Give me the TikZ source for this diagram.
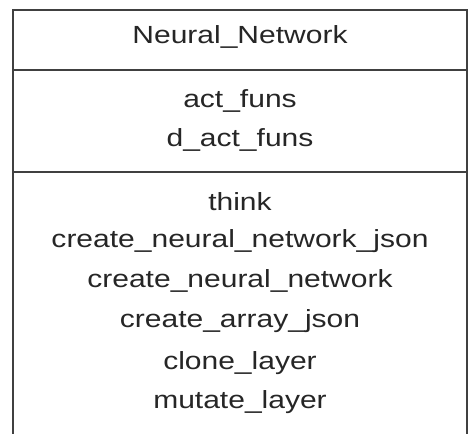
\documentclass[tikz,border=0pt]{standalone}
\usepackage{fontspec}
\setmainfont[FakeStretch=1.21]{Liberation Sans}
\begin{document}
\begin{tikzpicture}[x=1pt,y=-1pt,
  frame/.style={draw=black!75,line width=2.8pt},
  lbl/.style={font=\fontsize{24.8}{29}\selectfont,text=black!85,inner sep=0pt,anchor=base}]
\useasboundingbox (0,0) rectangle (473,433);
\fill[white] (0,0) rectangle (473,433);
\coordinate (tl) at (13,10);
\coordinate (tr) at (467,10);
\coordinate (bl) at (13,433);
\coordinate (br) at (467,433);
\draw[frame,line cap=rect] (bl) -- (tl) -- (tr) -- (br);
\coordinate (d1l) at (13,70);
\coordinate (d1r) at (467,70);
\coordinate (d2l) at (13,172);
\coordinate (d2r) at (467,172);
\draw[frame] (d1l) -- (d1r);
\draw[frame] (d2l) -- (d2r);
\node[lbl] (name) at (240,44) {Neural\_Network};
\node[lbl] (a1) at (240,107) {act\_funs};
\node[lbl] (a2) at (240,146) {d\_act\_funs};
\node[lbl] (m1) at (240,210) {think};
\node[lbl] (m2) at (240,247) {create\_neural\_network\_json};
\node[lbl] (m3) at (240,287) {create\_neural\_network};
\node[lbl] (m4) at (240,327) {create\_array\_json};
\node[lbl] (m5) at (240,369) {clone\_layer};
\node[lbl] (m6) at (240,408) {mutate\_layer};
\end{tikzpicture}
\end{document}
